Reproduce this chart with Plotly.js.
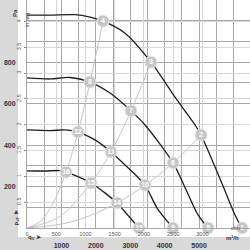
<!DOCTYPE html>
<html><head><meta charset="utf-8">
<script src="https://cdn.plot.ly/plotly-3.0.1.min.js"></script>
<style>html,body{margin:0;padding:0;background:#fff}#chart{width:250px;height:250px}</style>
</head><body><div id="chart"></div>
<script>
// Fan curves (m³/h, Pa)
const curve1X = [0, 669, 1395, 1831, 2209, 2849, 3605, 4302, 4884, 5058, 5660, 6045, 6250];
const curve1Y = [1027, 1027, 1029, 1017, 998, 940, 800, 631, 497, 449, 217, 63, 0];
const curve2X = [0, 669, 1250, 1831, 2413, 3023, 3430, 4244, 4651, 4971, 5262];
const curve2Y = [724, 719, 726, 704, 651, 565, 497, 314, 174, 63, 0];
const curve3X = [0, 669, 1105, 1483, 1977, 2442, 2849, 3430, 3779, 4244];
const curve3Y = [473, 470, 473, 463, 425, 367, 304, 207, 96, 0];
const curve4X = [0, 523, 959, 1134, 1860, 2616, 2849, 3256];
const curve4Y = [276, 275, 277, 270, 217, 121, 77, 0];
// System resistance curves
const sysAX = [0, 378, 755, 1134, 1483, 1831, 2209];
const sysAY = [0, 30, 120, 270, 463, 704, 998];
const sysBX = [0, 930, 1860, 2442, 3023, 3605];
const sysBY = [0, 53, 217, 367, 565, 800];
const sysCX = [0, 1308, 2616, 3430, 4244, 5058];
const sysCY = [0, 30, 121, 207, 314, 449];
// Operating points
const ptLabels = ['1','2','3','4','5','6','7','8','9','10','11','12','13','14','15','16'];
const ptX = [6250, 5058, 3605, 2209, 5262, 4244, 3023, 1831, 4244, 3430, 2442, 1483, 3256, 2616, 1860, 1134];
const ptY = [0, 449, 800, 998, 0, 314, 565, 704, 0, 207, 367, 463, 0, 121, 217, 270];
// Tick labels
const paTicks = [200, 400, 600, 800];
const flowTicks = [1000, 2000, 3000, 4000, 5000];
const cfmTicks = [0, 500, 1000, 1500, 2000, 2500, 3000];
const inwgTicks = [0.5, 1, 1.5, 2, 2.5, 3, 3.5, 4];
const inwgText = ['0.5', '1', '1.5', '2', '2.5', '3', '3.5', '4'];

const XMAX = 6480, YMAX = 1100;
const CFM = 1.699, INWG = 249.09;
const W = 223, H = 228;
const px = p => (p - 27) / W;
const py = p => (228 - p) / H;

const sysLine = {color: '#c4c4c4', width: 1, shape: 'spline', smoothing: 1};
const fanLine = {color: '#1e1e1e', width: 1.3, shape: 'spline', smoothing: 0.8};
const traces = [
  {x: sysAX, y: sysAY, mode: 'lines', line: sysLine, hoverinfo: 'skip'},
  {x: sysBX, y: sysBY, mode: 'lines', line: sysLine, hoverinfo: 'skip'},
  {x: sysCX, y: sysCY, mode: 'lines', line: sysLine, hoverinfo: 'skip'},
  {x: curve1X, y: curve1Y, mode: 'lines', line: fanLine},
  {x: curve2X, y: curve2Y, mode: 'lines', line: fanLine},
  {x: curve3X, y: curve3Y, mode: 'lines', line: fanLine},
  {x: curve4X, y: curve4Y, mode: 'lines', line: fanLine},
  {x: ptX, y: ptY, mode: 'markers+text', text: ptLabels, textposition: 'middle center',
   textfont: {family: 'Liberation Sans, Arial, sans-serif', size: 7, color: '#ffffff', weight: 'bold'},
   marker: {size: 12, color: '#c6c6c6', line: {color: '#e6e6e6', width: 1}}, cliponaxis: false},
  {x: [0], y: [0], xaxis: 'x2', yaxis: 'y2', mode: 'markers', marker: {opacity: 0}, hoverinfo: 'skip'}
];

const lab = {family: 'Liberation Sans, Arial, sans-serif', size: 7, color: '#333333', weight: 'bold'};
const small = {family: 'Liberation Sans, Arial, sans-serif', size: 5.5, color: '#555555'};

const layout = {
  width: 250, height: 250,
  margin: {l: 27, r: 0, t: 0, b: 22},
  paper_bgcolor: '#ffffff', plot_bgcolor: '#ffffff',
  showlegend: false,
  xaxis: {range: [0, XMAX], tickvals: flowTicks, showgrid: true, gridcolor: '#a8a8a8', gridwidth: 1,
    minor: {tick0: 0, dtick: 500, showgrid: true, gridcolor: '#a8a8a8', gridwidth: 1},
    showline: true, linecolor: '#a8a8a8', zeroline: false, ticks: '',
    tickfont: lab, ticklabelstandoff: 11, fixedrange: true},
  yaxis: {range: [0, YMAX], tickvals: paTicks, showgrid: true, gridcolor: '#a8a8a8', gridwidth: 1,
    minor: {tick0: 0, dtick: 100, showgrid: true, gridcolor: '#a8a8a8', gridwidth: 1},
    showline: true, linecolor: '#a8a8a8', zeroline: false, ticks: '',
    tickfont: lab, ticklabelstandoff: 9, fixedrange: true},
  xaxis2: {overlaying: 'x', anchor: 'y', side: 'bottom', range: [0, XMAX / CFM], tickvals: cfmTicks,
    showgrid: true, gridcolor: '#d6d6d6', gridwidth: 1, zeroline: false, ticks: '',
    tickfont: small, ticklabelstandoff: 1, fixedrange: true},
  yaxis2: {overlaying: 'y', anchor: 'x', side: 'left', range: [0, YMAX / INWG], tickvals: inwgTicks, ticktext: inwgText,
    showgrid: true, gridcolor: '#d6d6d6', gridwidth: 1, zeroline: false, ticks: 'outside', ticklen: 2, tickcolor: '#888888',
    tickangle: -90, tickfont: small, ticklabelstandoff: 1, fixedrange: true},
  shapes: [
    {type: 'rect', xref: 'paper', yref: 'paper', x0: px(0), x1: px(18), y0: py(250), y1: 1, fillcolor: '#d9d9d9', line: {width: 0}, layer: 'below'},
    {type: 'rect', xref: 'paper', yref: 'paper', x0: px(0), x1: 1, y0: py(250), y1: py(237), fillcolor: '#d9d9d9', line: {width: 0}, layer: 'below'}
  ],
  annotations: [
    {text: 'Pa', xref: 'paper', yref: 'paper', x: px(10), y: py(7), showarrow: false, textangle: -90, font: {family: 'Liberation Sans, Arial, sans-serif', size: 6, color: '#333333', weight: 'bold'}},
    {text: 'in. wg', xref: 'paper', yref: 'paper', x: px(22), y: py(11), showarrow: false, textangle: -90, font: small},
    {text: 'p<sub>sF</sub> ➤', xref: 'paper', yref: 'paper', x: px(10), y: py(228), showarrow: false, textangle: -90, font: {family: 'Liberation Sans, Arial, sans-serif', size: 6, color: '#333333', weight: 'bold'}},
    {text: 'q<sub>V</sub> ➤', xref: 'paper', yref: 'paper', x: px(26), y: py(243), showarrow: false, font: {family: 'Liberation Sans, Arial, sans-serif', size: 6, color: '#333333', weight: 'bold'}},
    {text: 'm³/h', xref: 'paper', yref: 'paper', x: px(241), y: py(243), showarrow: false, font: {family: 'Liberation Sans, Arial, sans-serif', size: 6, color: '#333333', weight: 'bold'}},
    {text: 'cfm', xref: 'paper', yref: 'paper', x: px(242), y: py(233), showarrow: false, font: small}
  ]
};
Plotly.newPlot('chart', traces, layout, {staticPlot: true, displayModeBar: false});
</script></body></html>
